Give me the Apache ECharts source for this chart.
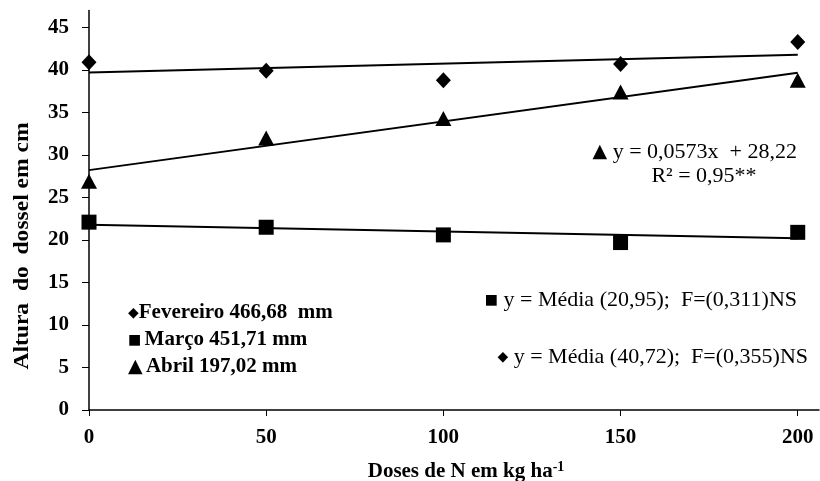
<!DOCTYPE html>
<html><head><meta charset="utf-8">
<script src="https://cdn.jsdelivr.net/npm/echarts@6/dist/echarts.min.js"></script>
<style>html,body{margin:0;padding:0;background:#fff}#c{width:820px;height:481px}</style>
</head><body><div id="c"></div>
<script>
const doses = [0, 50, 100, 150, 200];
const fevereiro = [40.9, 39.9, 38.8, 40.7, 43.3];
const marco = [22.1, 21.5, 20.6, 19.7, 20.9];
const abril = [26.9, 32.0, 34.3, 37.4, 38.8];
const trendX = [0, 200];
const fevTrend = [39.7, 41.8];
const marTrend = [21.8, 20.2];
const abrTrend = [28.22, 39.68];
const xTicks = [0, 50, 100, 150, 200];
const yTicks = [0, 5, 10, 15, 20, 25, 30, 35, 40, 45];

const pair = (xs, ys) => xs.map((x, i) => [x, ys[i]]);
const serif = '"Liberation Serif", "Times New Roman", serif';
const chart = echarts.init(document.getElementById('c'));
const lineStyle = { color: '#000', width: 2 };
const symRich = {
  m: { font: '14px "DejaVu Sans"', fill: '#000' },
  g: { font: '19px "DejaVu Sans"', fill: '#000' }
};
const boldRich = Object.assign({ t: { font: 'bold 21px ' + serif, fill: '#000' } }, symRich);
const normRich = Object.assign({ t: { font: '22px ' + serif, fill: '#000' } }, symRich);
chart.setOption({
  animation: false,
  grid: { left: 89, right: 1, top: 10.5, bottom: 71 },
  xAxis: {
    type: 'value', min: 0, max: 206,
    axisLine: { lineStyle: { color: '#000', width: 1.5 } },
    axisTick: { show: true, customValues: xTicks, length: 6, lineStyle: { color: '#000' } },
    axisLabel: { customValues: xTicks, color: '#000', fontFamily: serif, fontWeight: 'bold', fontSize: 21, margin: 17 },
    splitLine: { show: false }
  },
  yAxis: {
    type: 'value', min: 0, max: 47,
    axisLine: { show: true, lineStyle: { color: '#000', width: 1.5 } },
    axisTick: { show: true, customValues: yTicks, length: 7, lineStyle: { color: '#000' } },
    axisLabel: { customValues: yTicks, color: '#000', fontFamily: serif, fontWeight: 'bold', fontSize: 21, margin: 20 },
    splitLine: { show: false }
  },
  series: [
    { type: 'line', data: pair(trendX, fevTrend), symbol: 'none', lineStyle, clip: false, z: 1 },
    { type: 'line', data: pair(trendX, marTrend), symbol: 'none', lineStyle, clip: false, z: 1 },
    { type: 'line', data: pair(trendX, abrTrend), symbol: 'none', lineStyle, clip: false, z: 1 },
    { type: 'scatter', data: pair(doses, fevereiro), symbol: 'diamond', symbolSize: [15, 16], itemStyle: { color: '#000', opacity: 1 }, clip: false, z: 3 },
    { type: 'scatter', data: pair(doses, marco), symbol: 'rect', symbolSize: 15, itemStyle: { color: '#000', opacity: 1 }, clip: false, z: 3 },
    { type: 'scatter', data: pair(doses, abril), symbol: 'triangle', symbolSize: [16, 15], itemStyle: { color: '#000', opacity: 1 }, clip: false, z: 3 }
  ],
  graphic: [
    { type: 'text', x: 22, y: 246, rotation: Math.PI / 2, scaleX: 1.07, style: { text: 'Altura  do  dossel em cm', font: 'bold 22px ' + serif, fill: '#000', align: 'center', verticalAlign: 'middle' } },
    { type: 'text', x: 466, y: 472, style: { text: '{a|Doses de N em kg ha}{s|-1}', align: 'center', verticalAlign: 'middle', rich: { a: { font: 'bold 21px ' + serif, fill: '#000' }, s: { font: 'bold 14px ' + serif, fill: '#000', verticalAlign: 'top', padding: [0, 0, 10, 0] } } } },
    { type: 'text', x: 128, y: 313, style: { text: '{m|\u25C6}{t|Fevereiro 466,68  mm}', rich: boldRich, verticalAlign: 'middle' } },
    { type: 'text', x: 128, y: 340, style: { text: '{m|\u25A0} {t|Março 451,71 mm}', rich: boldRich, verticalAlign: 'middle' } },
    { type: 'text', x: 128, y: 367, style: { text: '{g|\u25B2} {t|Abril 197,02 mm}', rich: boldRich, verticalAlign: 'middle' } },
    { type: 'text', x: 797, y: 152, style: { text: '{g|\u25B2}{t| y = 0,0573x  + 28,22}', rich: normRich, align: 'right', verticalAlign: 'middle' } },
    { type: 'text', x: 704, y: 176, style: { text: 'R\u00B2 = 0,95**', font: '22px ' + serif, fill: '#000', align: 'center', verticalAlign: 'middle' } },
    { type: 'text', x: 797, y: 300, style: { text: '{m|\u25A0}{t| y = Média (20,95);  F=(0,311)NS}', rich: normRich, align: 'right', verticalAlign: 'middle' } },
    { type: 'text', x: 808, y: 357, style: { text: '{m|\u25C6}{t| y = Média (40,72);  F=(0,355)NS}', rich: normRich, align: 'right', verticalAlign: 'middle' } }
  ]
});
</script></body></html>
